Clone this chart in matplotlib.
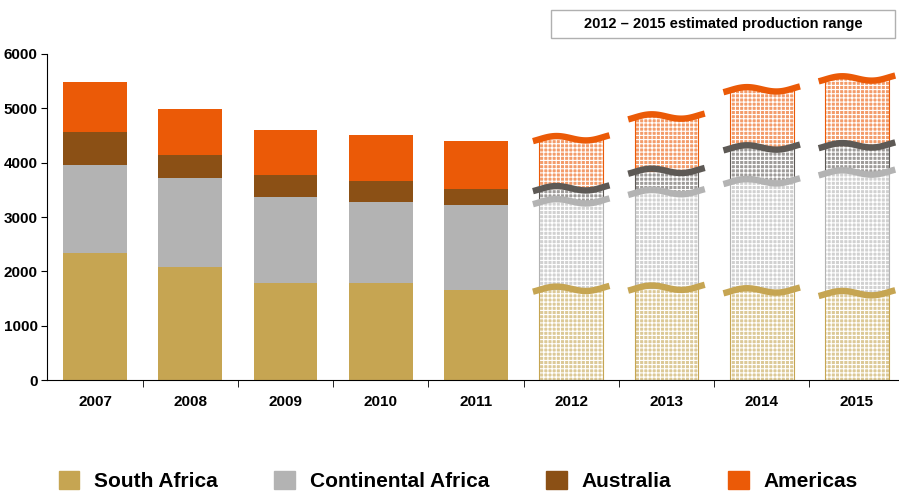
import numpy as np
import matplotlib.pyplot as plt
from matplotlib.patches import Patch, Rectangle

plt.rcParams['font.family'] = ['Liberation Sans', 'DejaVu Sans']
plt.rcParams['font.weight'] = 'bold'
plt.rcParams['hatch.linewidth'] = 0.8

years = ['2007', '2008', '2009', '2010', '2011', '2012', '2013', '2014', '2015']
regions = ['South Africa', 'Continental Africa', 'Australia', 'Americas']

# cumulative tops of each stacked segment (koz), actuals 2007-2011
south_africa = [2330, 2080, 1790, 1780, 1660]
continental = [3960, 3720, 3370, 3280, 3220]
australia = [4570, 4140, 3775, 3665, 3520]
americas = [5490, 4990, 4600, 4510, 4400]

# estimated range 2012-2015 (cumulative levels)
est_south_africa = [1680, 1700, 1650, 1600]
est_continental = [3290, 3460, 3660, 3820]
est_australia = [3530, 3850, 4280, 4320]
est_americas = [4450, 4850, 5350, 5550]

solid_colors = ['#c6a552', '#b3b3b3', '#8b5015', '#eb5a07']
wave_colors = ['#c6a552', '#b3b3b3', '#5d5955', '#eb5a07']

fig = plt.figure(figsize=(8.99, 4.93), dpi=100)
ax = fig.add_axes([0.0527, 0.229, 0.9535, 0.6615])

w = 0.67
x_act = np.arange(len(south_africa))
actual = [south_africa, continental, australia, americas]
bottom = np.zeros(len(x_act))
for vals, c in zip(actual, solid_colors):
    vals = np.array(vals)
    ax.bar(x_act, vals - bottom, w, bottom=bottom, color=c, linewidth=0)
    bottom = vals

x_est = np.arange(len(south_africa), len(years))
estimate = [est_south_africa, est_continental, est_australia, est_americas]
bottom = np.zeros(len(x_est))
for vals, c in zip(estimate, wave_colors):
    vals = np.array(vals)
    # tinted fill with white dotted pattern
    ax.bar(x_est, vals - bottom, w, bottom=bottom, color=c, alpha=0.6,
           linewidth=0, zorder=2)
    ax.bar(x_est, vals - bottom, w, bottom=bottom, facecolor='none',
           edgecolor='white', hatch='++++', linewidth=0, zorder=2.1)
    ax.bar(x_est, vals - bottom, w, bottom=bottom, facecolor='none',
           edgecolor=c, linewidth=0.8, zorder=2.2)
    bottom = vals

# wavy range markers
t = np.linspace(-0.1, 1.1, 60)
for vals, c in zip(estimate, wave_colors):
    for xi, v in zip(x_est, vals):
        xs = xi - w / 2 + t * w
        ys = v + 50 * np.sin(2 * np.pi * t) + 40 * (t - 0.5)
        ax.plot(xs, ys, color=c, lw=4.6, solid_capstyle='butt', zorder=3)

ax.set_xlim(-0.5, len(years) - 0.5)
ax.set_ylim(0, 6000)
ax.set_yticks(range(0, 6001, 1000))
ax.set_xticks(range(len(years)))
ax.set_xticklabels(years)
ax.set_xticks(np.arange(0.5, len(years) - 1, 1), minor=True)
ax.tick_params(axis='x', which='major', length=0, pad=11, labelsize=11)
ax.tick_params(axis='x', which='minor', length=5, direction='out')
ax.tick_params(axis='y', length=4, direction='out', labelsize=11, pad=3)
for lab in ax.get_xticklabels() + ax.get_yticklabels():
    lab.set_fontweight('bold')
ax.spines['top'].set_visible(False)
ax.spines['right'].set_visible(False)

# header box
fig.patches.append(Rectangle((551 / 899, 1 - 38 / 493), 344 / 899, 28 / 493,
                             transform=fig.transFigure, facecolor='white',
                             edgecolor='#b0b0b0', linewidth=1))
fig.text(723 / 899, 1 - 24 / 493, '2012 \u2013 2015 estimated production range',
         ha='center', va='center', fontsize=10.5, fontweight='bold')

handles = [Patch(color=c) for c in solid_colors]
fig.legend(handles, regions, loc='center', bbox_to_anchor=(458 / 899, 1 - 481 / 493),
           ncol=4, frameon=False, handlelength=1.0, handleheight=1.0,
           columnspacing=2.72, handletextpad=0.7,
           prop={'size': 15, 'weight': 'bold'})

fig.savefig('out.png', dpi=100)
